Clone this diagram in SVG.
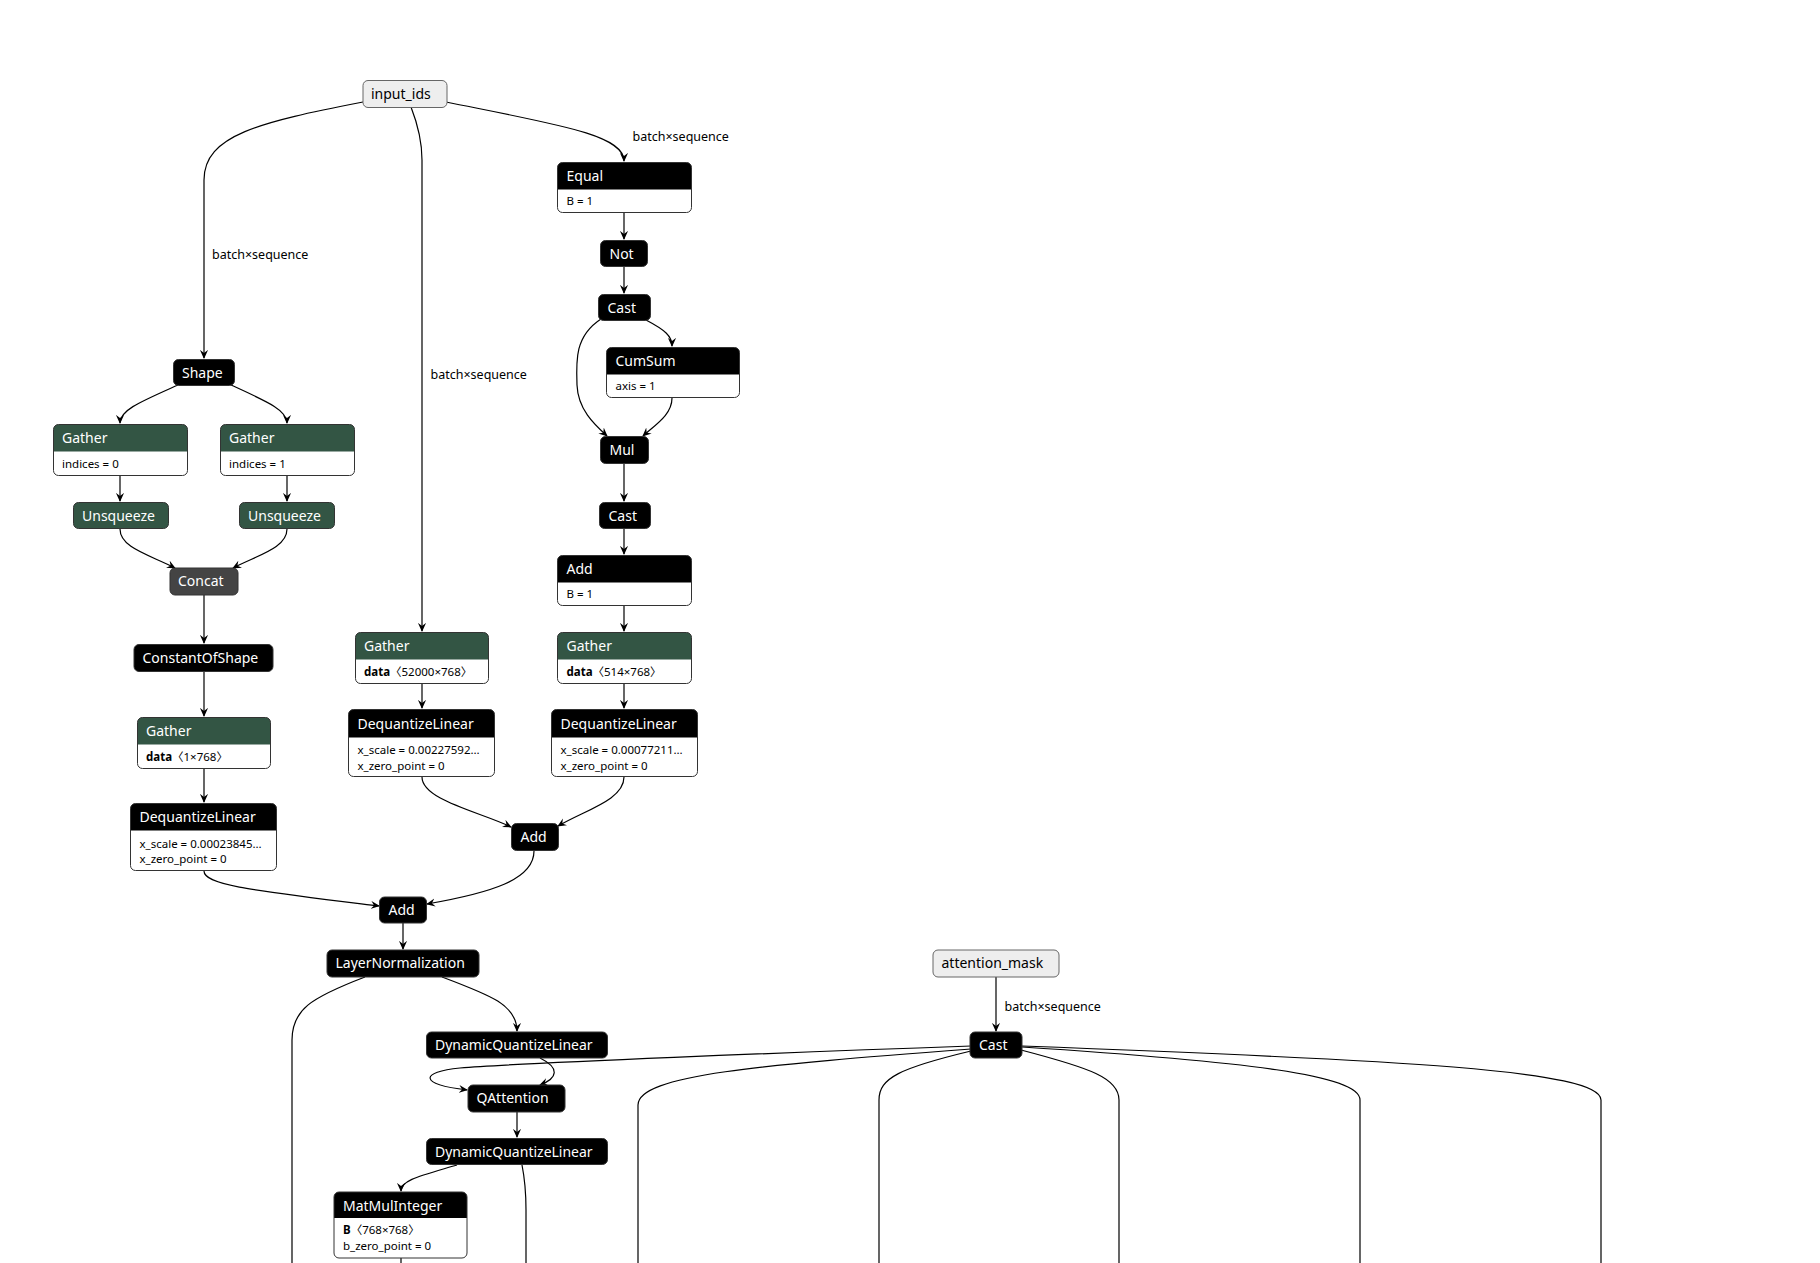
<svg xmlns="http://www.w3.org/2000/svg" width="1820" height="1263" viewBox="0 0 1820 1263">
<style>
text{font-family:"Noto Sans","Noto Sans CJK SC",sans-serif;}
.t{font-size:14px;fill:#fff;}
.tc{font-size:14px;fill:#fff;}
.ti{font-size:14px;fill:#000;}
.a{font-size:11.5px;fill:#000;}
.b{font-weight:bold;}
.lbl{font-size:12.5px;fill:#000;}
.blk{fill:#000;stroke:#333;stroke-width:1;}
.grn{fill:#335544;}
.gry{fill:#444;stroke:#333;stroke-width:1;}
.grnb{fill:#335544;stroke:#333;stroke-width:1;}
.hb{fill:#000;}
.body{fill:#fff;}
.brd{fill:none;stroke:#333;stroke-width:1;}
.inp{fill:#eee;stroke:#666;stroke-width:1;}
.e{fill:none;stroke:#000;stroke-width:1.2;}
</style>
<defs>
<marker id="arr" viewBox="0 0 10 10" refX="9" refY="5" markerWidth="9" markerHeight="9" markerUnits="userSpaceOnUse" orient="auto">
<path d="M0,0.5 L10,5 L0,9.5 L3.5,5 z" fill="#000"/>
</marker>
</defs>
<rect width="1820" height="1263" fill="#fff"/>

<g id="edges">
<path class="e" d="M363,102 C260,122 204,135 204,180 L204,358" marker-end="url(#arr)"/>
<path class="e" d="M411,107 C418,125 422,140 422,160 L422,631" marker-end="url(#arr)"/>
<path class="e" d="M446,102 C560,125 624,135 624,161" marker-end="url(#arr)"/>
<path class="e" d="M624,213 L624,239" marker-end="url(#arr)"/>
<path class="e" d="M624,267 L624,293" marker-end="url(#arr)"/>
<path class="e" d="M646,320 C665,330 672,336 672,346" marker-end="url(#arr)"/>
<path class="e" d="M601,319 C575,336 576,360 577,385 C578,410 595,425 607,436" marker-end="url(#arr)"/>
<path class="e" d="M672,398 C672,415 655,425 643,436" marker-end="url(#arr)"/>
<path class="e" d="M624,464 L624,501" marker-end="url(#arr)"/>
<path class="e" d="M624,529 L624,554" marker-end="url(#arr)"/>
<path class="e" d="M624,606 L624,631" marker-end="url(#arr)"/>
<path class="e" d="M624,684 L624,708" marker-end="url(#arr)"/>
<path class="e" d="M422,684 L422,708" marker-end="url(#arr)"/>
<path class="e" d="M422,777 C422,800 480,812 511,827" marker-end="url(#arr)"/>
<path class="e" d="M624,777 C624,800 585,810 558,826" marker-end="url(#arr)"/>
<path class="e" d="M534,851 C534,880 490,893 427,904" marker-end="url(#arr)"/>
<path class="e" d="M204,871 C204,885 250,890 379,906" marker-end="url(#arr)"/>
<path class="e" d="M178,385 C140,402 120,410 120,423" marker-end="url(#arr)"/>
<path class="e" d="M231,385 C268,402 287,410 287,423" marker-end="url(#arr)"/>
<path class="e" d="M120,476 L120,501" marker-end="url(#arr)"/>
<path class="e" d="M287,476 L287,501" marker-end="url(#arr)"/>
<path class="e" d="M120,529 C120,548 150,555 175,568" marker-end="url(#arr)"/>
<path class="e" d="M287,529 C287,548 258,555 233,568" marker-end="url(#arr)"/>
<path class="e" d="M204,595 L204,643" marker-end="url(#arr)"/>
<path class="e" d="M204,672 L204,716" marker-end="url(#arr)"/>
<path class="e" d="M204,769 L204,802" marker-end="url(#arr)"/>
<path class="e" d="M403,923 L403,949" marker-end="url(#arr)"/>
<path class="e" d="M442,977 C490,995 517,1005 517,1031" marker-end="url(#arr)"/>
<path class="e" d="M365,977 C310,998 292,1010 292,1040 L292,1263"/>
<path class="e" d="M540,1058 C560,1068 558,1078 540,1085" marker-end="url(#arr)"/>
<path class="e" d="M971,1046 C800,1052 520,1063 460,1068 C420,1072 418,1084 467,1090" marker-end="url(#arr)"/>
<path class="e" d="M971,1049 C760,1065 638,1075 638,1105 L638,1263"/>
<path class="e" d="M971,1051 C900,1068 879,1078 879,1100 L879,1263"/>
<path class="e" d="M1021,1050 C1090,1068 1119,1078 1119,1100 L1119,1263"/>
<path class="e" d="M1022,1047 C1250,1062 1360,1075 1360,1100 L1360,1263"/>
<path class="e" d="M1022,1046 C1400,1060 1601,1070 1601,1100 L1601,1263"/>
<path class="e" d="M996,977 L996,1031" marker-end="url(#arr)"/>
<path class="e" d="M517,1112 L517,1137" marker-end="url(#arr)"/>
<path class="e" d="M522,1165 C525,1180 526,1190 526,1210 L526,1263"/>
<path class="e" d="M457,1165 C420,1176 401,1180 401,1191" marker-end="url(#arr)"/>
<path class="e" d="M401,1258 L401,1263"/>
<text class="lbl" x="212" y="258.5">batch×sequence</text>
<text class="lbl" x="430.5" y="378.5">batch×sequence</text>
<text class="lbl" x="632.5" y="140.5">batch×sequence</text>
<text class="lbl" x="1004.5" y="1010.5">batch×sequence</text>
</g>

<g id="input_ids"><rect class="inp" x="363" y="80.5" width="84" height="27" rx="5"/><text class="ti" x="371" y="98.5">input_ids</text></g>

<g id="equal">
<rect class="body" x="557.5" y="162.5" width="134" height="50" rx="5"/>
<path class="hb" d="M557.5,189.5 V167.5 A5,5 0 0 1 562.5,162.5 H686.5 A5,5 0 0 1 691.5,167.5 V189.5 Z"/>
<rect class="brd" x="557.5" y="162.5" width="134" height="50" rx="5"/>
<text class="t" x="566.5" y="181">Equal</text>
<text class="a" x="566.5" y="205">B = 1</text>
</g>

<g id="not"><rect class="blk" x="600.5" y="240.5" width="47" height="26" rx="5"/><text class="tc" x="609.5" y="258.5">Not</text></g>
<g id="cast1"><rect class="blk" x="598.5" y="294.5" width="52" height="26" rx="5"/><text class="tc" x="607.5" y="312.5">Cast</text></g>

<g id="cumsum">
<rect class="body" x="606.5" y="347.5" width="133" height="50" rx="5"/>
<path class="hb" d="M606.5,374.5 V352.5 A5,5 0 0 1 611.5,347.5 H734.5 A5,5 0 0 1 739.5,352.5 V374.5 Z"/>
<rect class="brd" x="606.5" y="347.5" width="133" height="50" rx="5"/>
<text class="t" x="615.5" y="366">CumSum</text>
<text class="a" x="615.5" y="390">axis = 1</text>
</g>

<g id="mul"><rect class="blk" x="600.5" y="436.5" width="48" height="27" rx="5"/><text class="tc" x="609.5" y="454.5">Mul</text></g>
<g id="cast2"><rect class="blk" x="599.5" y="502.5" width="51" height="26" rx="5"/><text class="tc" x="608.5" y="520.5">Cast</text></g>

<g id="add_b1">
<rect class="body" x="557.5" y="555.5" width="134" height="50" rx="5"/>
<path class="hb" d="M557.5,582.5 V560.5 A5,5 0 0 1 562.5,555.5 H686.5 A5,5 0 0 1 691.5,560.5 V582.5 Z"/>
<rect class="brd" x="557.5" y="555.5" width="134" height="50" rx="5"/>
<text class="t" x="566.5" y="574">Add</text>
<text class="a" x="566.5" y="598">B = 1</text>
</g>

<g id="gather_r">
<rect class="body" x="557.5" y="632.5" width="134" height="51" rx="5"/>
<path class="grn" d="M557.5,659.5 V637.5 A5,5 0 0 1 562.5,632.5 H686.5 A5,5 0 0 1 691.5,637.5 V659.5 Z"/>
<rect class="brd" x="557.5" y="632.5" width="134" height="51" rx="5"/>
<text class="t" x="566.5" y="651">Gather</text>
<text class="a" x="566.5" y="675.5"><tspan class="b">data</tspan>〈514×768〉</text>
</g>

<g id="gather_m">
<rect class="body" x="355.5" y="632.5" width="133" height="51" rx="5"/>
<path class="grn" d="M355.5,659.5 V637.5 A5,5 0 0 1 360.5,632.5 H483.5 A5,5 0 0 1 488.5,637.5 V659.5 Z"/>
<rect class="brd" x="355.5" y="632.5" width="133" height="51" rx="5"/>
<text class="t" x="364" y="651">Gather</text>
<text class="a" x="364" y="675.5"><tspan class="b">data</tspan>〈52000×768〉</text>
</g>

<g id="dql_m">
<rect class="body" x="348.5" y="709.5" width="146" height="67" rx="5"/>
<path class="hb" d="M348.5,737.5 V714.5 A5,5 0 0 1 353.5,709.5 H489.5 A5,5 0 0 1 494.5,714.5 V737.5 Z"/>
<rect class="brd" x="348.5" y="709.5" width="146" height="67" rx="5"/>
<text class="t" x="357.5" y="728.5">DequantizeLinear</text>
<text class="a" x="357.5" y="754">x_scale = 0.00227592…</text>
<text class="a" x="357.5" y="769.5">x_zero_point = 0</text>
</g>

<g id="dql_r">
<rect class="body" x="551.5" y="709.5" width="146" height="67" rx="5"/>
<path class="hb" d="M551.5,737.5 V714.5 A5,5 0 0 1 556.5,709.5 H692.5 A5,5 0 0 1 697.5,714.5 V737.5 Z"/>
<rect class="brd" x="551.5" y="709.5" width="146" height="67" rx="5"/>
<text class="t" x="560.5" y="728.5">DequantizeLinear</text>
<text class="a" x="560.5" y="754">x_scale = 0.00077211…</text>
<text class="a" x="560.5" y="769.5">x_zero_point = 0</text>
</g>

<g id="add_m"><rect class="blk" x="511.5" y="823.5" width="47" height="27" rx="5"/><text class="tc" x="520.5" y="841.5">Add</text></g>

<g id="shape"><rect class="blk" x="173.5" y="359.5" width="61" height="26" rx="5"/><text class="tc" x="182" y="377.5">Shape</text></g>

<g id="gather_l0">
<rect class="body" x="53.5" y="424.5" width="134" height="51" rx="5"/>
<path class="grn" d="M53.5,451.5 V429.5 A5,5 0 0 1 58.5,424.5 H182.5 A5,5 0 0 1 187.5,429.5 V451.5 Z"/>
<rect class="brd" x="53.5" y="424.5" width="134" height="51" rx="5"/>
<text class="t" x="62" y="443">Gather</text>
<text class="a" x="62" y="467.5">indices = 0</text>
</g>

<g id="gather_l1">
<rect class="body" x="220.5" y="424.5" width="134" height="51" rx="5"/>
<path class="grn" d="M220.5,451.5 V429.5 A5,5 0 0 1 225.5,424.5 H349.5 A5,5 0 0 1 354.5,429.5 V451.5 Z"/>
<rect class="brd" x="220.5" y="424.5" width="134" height="51" rx="5"/>
<text class="t" x="229" y="443">Gather</text>
<text class="a" x="229" y="467.5">indices = 1</text>
</g>

<g id="unsq_l"><rect class="grnb" x="73.5" y="502.5" width="95" height="26" rx="5"/><text class="tc" x="82" y="520.5">Unsqueeze</text></g>
<g id="unsq_r"><rect class="grnb" x="239.5" y="502.5" width="95" height="26" rx="5"/><text class="tc" x="248" y="520.5">Unsqueeze</text></g>
<g id="concat"><rect class="gry" x="170" y="568" width="68" height="27" rx="5"/><text class="tc" x="178" y="586">Concat</text></g>
<g id="constantofshape"><rect class="blk" x="134" y="644.5" width="139" height="27" rx="5"/><text class="tc" x="142.5" y="662.5">ConstantOfShape</text></g>

<g id="gather_1x768">
<rect class="body" x="137.5" y="717.5" width="133" height="51" rx="5"/>
<path class="grn" d="M137.5,744.5 V722.5 A5,5 0 0 1 142.5,717.5 H265.5 A5,5 0 0 1 270.5,722.5 V744.5 Z"/>
<rect class="brd" x="137.5" y="717.5" width="133" height="51" rx="5"/>
<text class="t" x="146" y="736">Gather</text>
<text class="a" x="146" y="760.5"><tspan class="b">data</tspan>〈1×768〉</text>
</g>

<g id="dql_l">
<rect class="body" x="130.5" y="803.5" width="146" height="67" rx="5"/>
<path class="hb" d="M130.5,830.5 V808.5 A5,5 0 0 1 135.5,803.5 H271.5 A5,5 0 0 1 276.5,808.5 V830.5 Z"/>
<rect class="brd" x="130.5" y="803.5" width="146" height="67" rx="5"/>
<text class="t" x="139.5" y="822">DequantizeLinear</text>
<text class="a" x="139.5" y="847.5">x_scale = 0.00023845…</text>
<text class="a" x="139.5" y="863">x_zero_point = 0</text>
</g>

<g id="add_bottom"><rect class="blk" x="379.5" y="897" width="47" height="26" rx="5"/><text class="tc" x="388.5" y="915">Add</text></g>
<g id="layernorm"><rect class="blk" x="327" y="950" width="152" height="27" rx="5"/><text class="tc" x="335.5" y="968">LayerNormalization</text></g>
<g id="attention_mask"><rect class="inp" x="933" y="950" width="126" height="27" rx="5"/><text class="ti" x="941.5" y="968">attention_mask</text></g>
<g id="cast_att"><rect class="blk" x="970" y="1032" width="52" height="26" rx="5"/><text class="tc" x="979" y="1050">Cast</text></g>
<g id="dql1"><rect class="blk" x="426.5" y="1032" width="181" height="26" rx="5"/><text class="tc" x="435" y="1050">DynamicQuantizeLinear</text></g>
<g id="qattention"><rect class="blk" x="468" y="1085" width="97" height="27" rx="5"/><text class="tc" x="476.5" y="1103">QAttention</text></g>
<g id="dql2"><rect class="blk" x="426.5" y="1138.5" width="181" height="26" rx="5"/><text class="tc" x="435" y="1156.5">DynamicQuantizeLinear</text></g>

<g id="matmulinteger">
<rect class="body" x="334" y="1192" width="133" height="66" rx="5"/>
<path class="hb" d="M334,1218 V1197 A5,5 0 0 1 339,1192 H462 A5,5 0 0 1 467,1197 V1218 Z"/>
<rect class="brd" x="334" y="1192" width="133" height="66" rx="5"/>
<text class="t" x="343" y="1210.5">MatMulInteger</text>
<text class="a" x="343" y="1234"><tspan class="b">B</tspan>〈768×768〉</text>
<text class="a" x="343" y="1249.5">b_zero_point = 0</text>
</g>
</svg>
